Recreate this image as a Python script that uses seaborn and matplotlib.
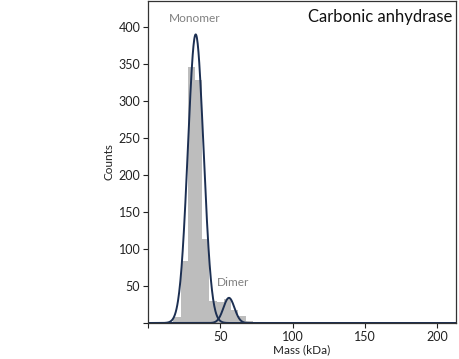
import numpy as np
import pandas as pd
import matplotlib
matplotlib.use('Agg')
import matplotlib.pyplot as plt
import seaborn as sns

# histogram of particle masses (kDa), 5 kDa bins
bin_edges = [12.5, 17.5, 22.5, 27.5, 32.5, 37.5, 42.5, 47.5, 52.5, 57.5, 62.5, 67.5, 72.5, 77.5, 82.5, 87.5]
bin_counts = [2, 8, 84, 346, 328, 113, 30, 28, 32, 17, 9, 3, 1, 1, 2]

# gaussian fits: (centre kDa, sigma kDa, amplitude counts)
peak_names = ['Monomer', 'Dimer']
peak_mu = [33.0, 56.0]
peak_sigma = [5.4, 3.8]
peak_amp = [390, 34]

sns.set_theme(style='white')
plt.rcParams['font.family'] = ['Lato', 'DejaVu Sans']

fig = plt.figure(figsize=(4.6, 3.59), dpi=100)
ax = fig.add_axes([0.3217, 0.1003, 0.6695, 0.8967])

centers = [(a + b) / 2 for a, b in zip(bin_edges[:-1], bin_edges[1:])]
hist_df = pd.DataFrame({'mass': centers, 'count': bin_counts})
sns.histplot(data=hist_df, x='mass', weights='count', bins=bin_edges,
             color='#bdbdbd', alpha=1.0, edgecolor='none', linewidth=0, ax=ax)

xs = np.linspace(0, 213, 800)
for mu, sd, amp in zip(peak_mu, peak_sigma, peak_amp):
    ys = amp * np.exp(-(xs - mu) ** 2 / (2 * sd ** 2))
    sns.lineplot(x=xs, y=ys, color='#1c2f52', linewidth=1.4, ax=ax)

ax.set_xlim(0, 213)
ax.set_ylim(0, 435)
ax.set_xticks([0, 50, 100, 150, 200])
ax.set_xticklabels(['', '50', '100', '150', '200'])
ax.set_yticks([0, 50, 100, 150, 200, 250, 300, 350, 400])
ax.set_yticklabels(['', '50', '100', '150', '200', '250', '300', '350', '400'])
ax.tick_params(axis='both', direction='out', length=3.5, width=0.8,
               labelsize=9, colors='#222222', pad=2, bottom=True, left=True)
ax.set_xlabel('Mass (kDa)', fontsize=8.5, color='#222222', labelpad=1)
ax.set_ylabel('Counts', fontsize=8.5, color='#222222', labelpad=3)
for s in ax.spines.values():
    s.set_color('#333333')
    s.set_linewidth(0.9)

ax.text(0.99, 0.975, 'Carbonic anhydrase', transform=ax.transAxes,
        ha='right', va='top', fontsize=12, color='#111111')
ax.text(peak_mu[0] - 1, 412, peak_names[0], ha='center', va='center',
        fontsize=8.6, color='#808080')
ax.text(peak_mu[1] + 3, 55, peak_names[1], ha='center', va='center',
        fontsize=8.6, color='#808080')

fig.savefig('out.png', dpi=100)
